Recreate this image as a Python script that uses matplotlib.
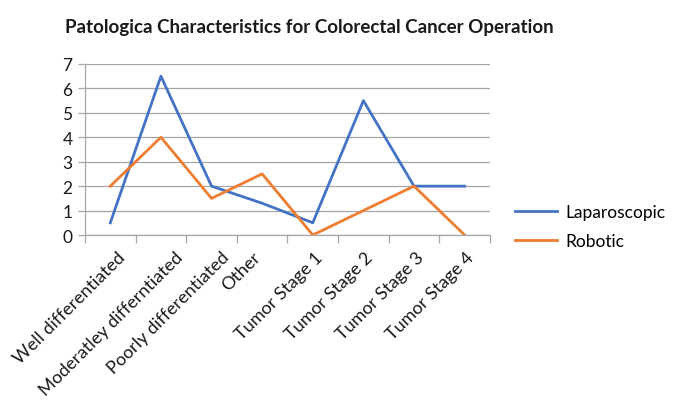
import matplotlib
matplotlib.use("Agg")
import matplotlib.pyplot as plt
import matplotlib.transforms as mtransforms

plt.rcParams['font.family'] = ['Lato', 'DejaVu Sans']

categories = ["Well differentiated", "Moderatley differntiated", "Poorly differentiated",
              "Other", "Tumor Stage 1", "Tumor Stage 2", "Tumor Stage 3", "Tumor Stage 4"]
laparoscopic = [0.5, 6.5, 2, 1.3, 0.5, 5.5, 2, 2]
robotic = [2, 4, 1.5, 2.5, 0, 1, 2, 0]
y_ticks = [0, 1, 2, 3, 4, 5, 6, 7]

grey = "#A6A6A6"
text_col = "#1a1a1a"

fig = plt.figure(figsize=(6.73, 4.06), dpi=100)
ax = fig.add_axes([0.1263, 0.4187, 0.6017, 0.4213])

x = list(range(len(categories)))
ax.plot(x, laparoscopic, color="#4472C4", lw=2.0, label="Laparoscopic", solid_joinstyle="round")
ax.plot(x, robotic, color="#ED7D31", lw=2.0, label="Robotic", solid_joinstyle="round")

ax.set_xlim(-0.5, len(categories) - 0.5)
ax.set_ylim(0, 7)
ax.set_yticks(y_ticks)
ax.tick_params(axis='y', length=5, width=0.9, color=grey, direction='out',
               labelsize=12.5, pad=4, labelcolor=text_col)
ax.yaxis.grid(True, color=grey, lw=0.9)
ax.set_axisbelow(True)

# category ticks sit between categories
ax.set_xticks([i - 0.5 for i in range(len(categories) + 1)], minor=False)
ax.set_xticklabels([])
ax.tick_params(axis='x', length=6, color=grey, width=0.9, direction='out')
ax.set_xticks(x, minor=True)
ax.set_xticklabels(categories, minor=True, rotation=45, ha='right', va='center',
                   rotation_mode='anchor', fontsize=13, color=text_col)
ax.tick_params(axis='x', which='minor', length=0, pad=14)

# longer rotated labels are pushed further right of their category
renderer = fig.canvas.get_renderer()
for lbl in ax.get_xticklabels(minor=True):
    lbl.set_rotation(0)
    w = lbl.get_window_extent(renderer).width
    lbl.set_rotation(45)
    shift_px = -11.5 + 0.16 * w
    offset = mtransforms.ScaledTranslation(shift_px / 100, 0, fig.dpi_scale_trans)
    lbl.set_transform(lbl.get_transform() + offset)

for s in ['top', 'right']:
    ax.spines[s].set_visible(False)
for s in ['bottom', 'left']:
    ax.spines[s].set_color(grey)
    ax.spines[s].set_linewidth(0.9)

fig.text(0.459, 0.932, "Patologica Characteristics for Colorectal Cancer Operation",
         ha='center', va='center', fontsize=13.5, fontweight='bold', color=text_col)

leg = fig.legend(loc='center left', bbox_to_anchor=(0.755, 0.44), frameon=False,
                 fontsize=12.5, handlelength=2.4, handletextpad=0.5, labelspacing=0.75,
                 borderaxespad=0)

fig.savefig("out.png", dpi=100)
